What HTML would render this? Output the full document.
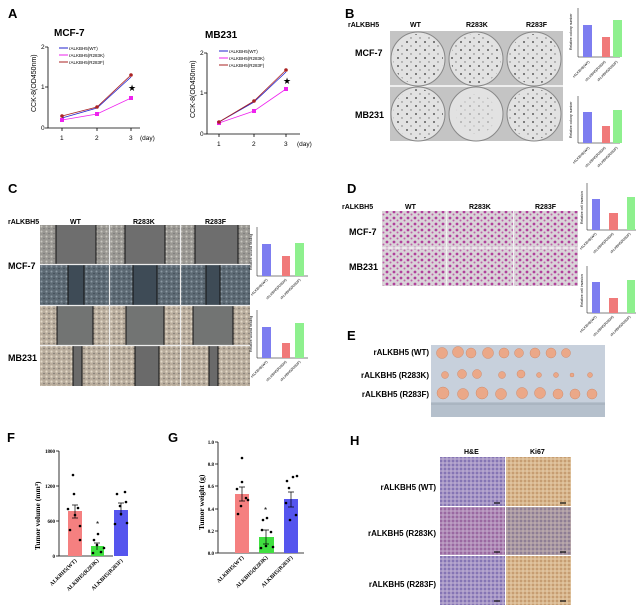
<!DOCTYPE html>
<html><head><meta charset="utf-8"><style>
html,body{margin:0;padding:0;background:#fff;}
svg{display:block;font-family:"Liberation Sans",Arial,sans-serif;}
.b{font-weight:bold;}
</style></head><body>
<svg width="639" height="607" viewBox="0 0 639 607" xmlns="http://www.w3.org/2000/svg">
<defs>
<pattern id="plateDots" width="9" height="8" patternUnits="userSpaceOnUse"><circle cx="2" cy="2" r="1" fill="#222"/><circle cx="6" cy="6" r="0.7" fill="#444"/></pattern>
<pattern id="cellG" width="5" height="5" patternUnits="userSpaceOnUse"><rect width="5" height="5" fill="#9a9893"/><circle cx="1.5" cy="1.5" r="1" fill="#c8c6c0"/><circle cx="4" cy="3.5" r="0.8" fill="#777"/></pattern>
<pattern id="cellB" width="5" height="5" patternUnits="userSpaceOnUse"><rect width="5" height="5" fill="#5d6a74"/><circle cx="1.5" cy="1.5" r="1" fill="#8c99a3"/><circle cx="4" cy="3.5" r="0.8" fill="#3f4a54"/></pattern>
<pattern id="cellT" width="5" height="5" patternUnits="userSpaceOnUse"><rect width="5" height="5" fill="#b9ad9d"/><circle cx="1.5" cy="1.5" r="1.1" fill="#e2d8c8"/><circle cx="4" cy="3.5" r="0.8" fill="#7b7670"/></pattern>
<pattern id="inv" width="7" height="6" patternUnits="userSpaceOnUse"><rect width="7" height="6" fill="#d9d3d8"/><circle cx="2" cy="2" r="1.4" fill="#b0409a"/><circle cx="5.5" cy="4.5" r="1" fill="#c060aa"/></pattern>
<pattern id="he" width="4" height="4" patternUnits="userSpaceOnUse"><rect width="4" height="4" fill="#a797c6"/><circle cx="1" cy="1" r="0.9" fill="#6d5ca8"/><circle cx="3" cy="3" r="0.6" fill="#d6cbe0"/></pattern>
<pattern id="heK" width="4" height="4" patternUnits="userSpaceOnUse"><rect width="4" height="4" fill="#b08cb8"/><circle cx="1" cy="1" r="0.9" fill="#8a4f90"/><circle cx="3" cy="3" r="0.6" fill="#dac8dc"/></pattern>
<pattern id="ki" width="4" height="4" patternUnits="userSpaceOnUse"><rect width="4" height="4" fill="#d9b88f"/><circle cx="1" cy="1" r="0.9" fill="#b98a5e"/><circle cx="3" cy="3" r="0.6" fill="#efe0c8"/></pattern>
<pattern id="kiK" width="4" height="4" patternUnits="userSpaceOnUse"><rect width="4" height="4" fill="#ab9aa4"/><circle cx="1" cy="1" r="0.9" fill="#7a6a88"/><circle cx="3" cy="3" r="0.6" fill="#d8cab8"/></pattern>
</defs>

<!-- A -->
<text x="8" y="18" font-size="13" class="b">A</text>
<text x="54" y="36" font-size="10" class="b">MCF-7</text>
<text x="205" y="38" font-size="10" class="b">MB231</text>
<g stroke="#000" stroke-width="0.8" fill="none">
<path d="M48,47 V128 H140"/><path d="M45,47H48M45,87H48M45,128H48M62,128v3M97,128v3M131,128v3"/>
<path d="M207,53 V134 H300"/><path d="M204,53H207M204,93H207M204,134H207M219,134v3M254,134v3M286,134v3"/>
</g>
<g font-size="6.5">
<text x="41" y="49">2</text><text x="41" y="89">1</text><text x="41" y="130">0</text>
<text x="60" y="140">1</text><text x="95" y="140">2</text><text x="129" y="140">3</text><text x="140" y="140">(day)</text>
<text x="200" y="55">2</text><text x="200" y="95">1</text><text x="200" y="136">0</text>
<text x="217" y="146">1</text><text x="252" y="146">2</text><text x="284" y="146">3</text><text x="297" y="146">(day)</text>
</g>
<text transform="translate(36,112) rotate(-90)" font-size="7">CCK-8(OD450nm)</text>
<text transform="translate(195,118) rotate(-90)" font-size="7">CCK-8(OD450nm)</text>
<g font-size="4.5">
<line x1="59" y1="48" x2="68" y2="48" stroke="#22c"/><text x="69" y="50">rALKBH5(WT)</text>
<line x1="59" y1="55" x2="68" y2="55" stroke="#e2e"/><text x="69" y="57">rALKBH5(R283K)</text>
<line x1="59" y1="62" x2="68" y2="62" stroke="#a22"/><text x="69" y="64">rALKBH5(R283F)</text>
<line x1="219" y1="51" x2="228" y2="51" stroke="#22c"/><text x="229" y="53">rALKBH5(WT)</text>
<line x1="219" y1="58" x2="228" y2="58" stroke="#e2e"/><text x="229" y="60">rALKBH5(R283K)</text>
<line x1="219" y1="65" x2="228" y2="65" stroke="#a22"/><text x="229" y="67">rALKBH5(R283F)</text>
</g>
<g fill="none" stroke-width="0.8">
<polyline points="62,118 97,108 131,77" stroke="#22c"/>
<polyline points="62,120 97,114 131,98" stroke="#e2e"/>
<polyline points="62,116 97,107 131,75" stroke="#a22"/>
<polyline points="219,122 254,102 286,72" stroke="#22c"/>
<polyline points="219,123 254,111 286,89" stroke="#e2e"/>
<polyline points="219,122 254,101 286,70" stroke="#a22"/>
</g>
<g fill="#e2e"><rect x="60" y="118" width="4" height="4"/><rect x="95" y="112" width="4" height="4"/><rect x="129" y="96" width="4" height="4"/><rect x="217" y="121" width="4" height="4"/><rect x="252" y="109" width="4" height="4"/><rect x="284" y="87" width="4" height="4"/></g>
<g fill="#a22"><circle cx="62" cy="116" r="1.8"/><circle cx="97" cy="107" r="1.8"/><circle cx="131" cy="75" r="1.8"/><circle cx="219" cy="122" r="1.8"/><circle cx="254" cy="101" r="1.8"/><circle cx="286" cy="70" r="1.8"/></g>
<text x="128" y="91" font-size="9">★</text><text x="283" y="84" font-size="9">★</text>

<!-- B -->
<text x="345" y="18" font-size="13" class="b">B</text>
<g font-size="7" class="b"><text x="348" y="27">rALKBH5</text><text x="410" y="27">WT</text><text x="466" y="27">R283K</text><text x="526" y="27">R283F</text></g>
<text x="355" y="56" font-size="9" class="b">MCF-7</text>
<text x="355" y="118" font-size="9" class="b">MB231</text>
<rect x="390" y="31" width="173" height="110" fill="#c4c4c4"/>
<line x1="390" y1="86" x2="563" y2="86" stroke="#eee" stroke-width="2"/>
<g fill="#e2e2e2" stroke="#888" stroke-width="1">
<circle cx="418" cy="59" r="27"/><circle cx="476" cy="59" r="27"/><circle cx="534" cy="59" r="27"/>
<circle cx="418" cy="114" r="27"/><circle cx="476" cy="114" r="27"/><circle cx="534" cy="114" r="27"/>
</g>
<g fill="url(#plateDots)" opacity="0.7">
<circle cx="418" cy="59" r="25"/><circle cx="476" cy="59" r="25"/><circle cx="534" cy="59" r="25"/>
<circle cx="418" cy="114" r="25"/><circle cx="476" cy="114" r="20" opacity="0.4"/><circle cx="534" cy="114" r="25"/>
</g>
<g stroke="#000" stroke-width="0.5" fill="none"><path d="M578,8V57H620"/><path d="M578,96V143H620"/></g>
<rect x="583" y="25" width="9" height="32" fill="#7d7df0"/><rect x="602" y="37" width="8" height="20" fill="#f07a7a"/><rect x="613" y="20" width="9" height="37" fill="#8ef08e"/>
<rect x="583" y="112" width="9" height="31" fill="#7d7df0"/><rect x="602" y="126" width="8" height="17" fill="#f07a7a"/><rect x="613" y="110" width="9" height="33" fill="#8ef08e"/>
<g font-size="3.5"><text transform="translate(572,50) rotate(-90)">Relative colony number</text><text transform="translate(572,138) rotate(-90)">Relative colony number</text></g>
<g font-size="3.5"><text transform="translate(590,62) rotate(-45)" text-anchor="end">rALKBH5(WT)</text><text transform="translate(606,62) rotate(-45)" text-anchor="end">rALKBH5(R283K)</text><text transform="translate(618,62) rotate(-45)" text-anchor="end">rALKBH5(R283F)</text>
<text transform="translate(590,148) rotate(-45)" text-anchor="end">rALKBH5(WT)</text><text transform="translate(606,148) rotate(-45)" text-anchor="end">rALKBH5(R283K)</text><text transform="translate(618,148) rotate(-45)" text-anchor="end">rALKBH5(R283F)</text></g>

<!-- C -->
<text x="8" y="193" font-size="13" class="b">C</text>
<g font-size="7" class="b"><text x="8" y="224">rALKBH5</text><text x="70" y="224">WT</text><text x="133" y="224">R283K</text><text x="205" y="224">R283F</text></g>
<text x="8" y="269" font-size="9" class="b">MCF-7</text>
<text x="8" y="361" font-size="9" class="b">MB231</text>
<g>
<rect x="40" y="225" width="210" height="39" fill="url(#cellG)"/>
<rect x="40" y="265" width="210" height="40" fill="url(#cellB)"/>
<rect x="40" y="306" width="210" height="39" fill="url(#cellT)"/>
<rect x="40" y="346" width="210" height="40" fill="url(#cellT)"/>
<g fill="#6e6e6e"><rect x="56" y="225" width="40" height="39"/><rect x="125" y="225" width="40" height="39"/><rect x="195" y="225" width="43" height="39"/></g>
<g fill="#3e4b56"><rect x="68" y="265" width="16" height="40"/><rect x="133" y="265" width="24" height="40"/><rect x="206" y="265" width="14" height="40"/></g>
<g fill="#727473"><rect x="57" y="306" width="36" height="39"/><rect x="126" y="306" width="38" height="39"/><rect x="193" y="306" width="40" height="39"/></g>
<g fill="#6a6a6a"><rect x="73" y="346" width="9" height="40"/><rect x="135" y="346" width="24" height="40"/><rect x="209" y="346" width="9" height="40"/></g>
<g stroke="#111" stroke-width="1"><path d="M56,225v39M96,225v39M125,225v39M165,225v39M195,225v39M238,225v39M68,265v40M84,265v40M133,265v40M157,265v40M206,265v40M220,265v40M57,306v39M93,306v39M126,306v39M164,306v39M193,306v39M233,306v39M73,346v40M82,346v40M135,346v40M159,346v40M209,346v40M218,346v40"/></g>
<g stroke="#eee" stroke-width="1.2"><path d="M109.5,225V386M180.5,225V386M40,264.5H250M40,305.5H250M40,345.5H250"/></g>
</g>
<g stroke="#000" stroke-width="0.5" fill="none"><path d="M257,227V276H308"/><path d="M257,310V358H308"/></g>
<rect x="262" y="244" width="9" height="32" fill="#7d7df0"/><rect x="282" y="256" width="8" height="20" fill="#f07a7a"/><rect x="295" y="243" width="9" height="33" fill="#8ef08e"/>
<rect x="262" y="327" width="9" height="31" fill="#7d7df0"/><rect x="282" y="343" width="8" height="15" fill="#f07a7a"/><rect x="295" y="323" width="9" height="35" fill="#8ef08e"/>
<g font-size="3.5"><text transform="translate(252,270) rotate(-90)">Relative wound healing</text><text transform="translate(252,352) rotate(-90)">Relative wound healing</text>
<text transform="translate(268,280) rotate(-45)" text-anchor="end">rALKBH5(WT)</text><text transform="translate(287,280) rotate(-45)" text-anchor="end">rALKBH5(R283K)</text><text transform="translate(301,280) rotate(-45)" text-anchor="end">rALKBH5(R283F)</text>
<text transform="translate(268,362) rotate(-45)" text-anchor="end">rALKBH5(WT)</text><text transform="translate(287,362) rotate(-45)" text-anchor="end">rALKBH5(R283K)</text><text transform="translate(301,362) rotate(-45)" text-anchor="end">rALKBH5(R283F)</text></g>

<!-- D -->
<text x="347" y="193" font-size="13" class="b">D</text>
<g font-size="7" class="b"><text x="342" y="209">rALKBH5</text><text x="405" y="209">WT</text><text x="469" y="209">R283K</text><text x="535" y="209">R283F</text></g>
<text x="349" y="235" font-size="9" class="b">MCF-7</text>
<text x="349" y="270" font-size="9" class="b">MB231</text>
<rect x="382" y="211" width="196" height="75" fill="url(#inv)"/>
<g stroke="#f2f2f2" stroke-width="1.5"><path d="M446.5,211V286M513.5,211V286M382,248H578"/></g>
<g stroke="#000" stroke-width="0.5" fill="none"><path d="M587,183V230H636"/><path d="M587,266V313H636"/></g>
<rect x="592" y="199" width="8" height="31" fill="#7d7df0"/><rect x="609" y="213" width="9" height="17" fill="#f07a7a"/><rect x="627" y="197" width="8" height="33" fill="#8ef08e"/>
<rect x="592" y="282" width="8" height="31" fill="#7d7df0"/><rect x="609" y="298" width="9" height="15" fill="#f07a7a"/><rect x="627" y="280" width="8" height="33" fill="#8ef08e"/>
<g font-size="3.5"><text transform="translate(583,224) rotate(-90)">Relative cell invasion</text><text transform="translate(583,307) rotate(-90)">Relative cell invasion</text>
<text transform="translate(597,234) rotate(-45)" text-anchor="end">rALKBH5(WT)</text><text transform="translate(614,234) rotate(-45)" text-anchor="end">rALKBH5(R283K)</text><text transform="translate(631,234) rotate(-45)" text-anchor="end">rALKBH5(R283F)</text>
<text transform="translate(597,317) rotate(-45)" text-anchor="end">rALKBH5(WT)</text><text transform="translate(614,317) rotate(-45)" text-anchor="end">rALKBH5(R283K)</text><text transform="translate(631,317) rotate(-45)" text-anchor="end">rALKBH5(R283F)</text></g>

<!-- E -->
<text x="347" y="340" font-size="13" class="b">E</text>
<g font-size="8" class="b" text-anchor="end"><text x="429" y="355">rALKBH5 (WT)</text><text x="429" y="378">rALKBH5 (R283K)</text><text x="429" y="397">rALKBH5 (R283F)</text></g>
<rect x="431" y="345" width="174" height="72" fill="#c7d0dc"/>
<rect x="431" y="402" width="174" height="15" fill="#b5c0cc"/>
<g stroke="#8894a0" stroke-width="0.5"><path d="M431,404H605"/></g>
<g fill="#eba888" stroke="#d08a6a" stroke-width="0.5">
<circle cx="442" cy="353" r="5.5"/><circle cx="458" cy="352" r="5.5"/><circle cx="471" cy="353" r="5"/><circle cx="488" cy="353" r="5.5"/><circle cx="504" cy="353" r="5"/><circle cx="519" cy="353" r="4.5"/><circle cx="535" cy="353" r="5"/><circle cx="551" cy="353" r="5"/><circle cx="566" cy="353" r="4.5"/>
<circle cx="445" cy="375" r="3.5"/><circle cx="462" cy="374" r="4.5"/><circle cx="477" cy="374" r="4.5"/><circle cx="502" cy="375" r="3.5"/><circle cx="521" cy="374" r="4"/><circle cx="539" cy="375" r="2.5"/><circle cx="556" cy="375" r="2.5"/><circle cx="572" cy="375" r="2"/><circle cx="590" cy="375" r="2.5"/>
<circle cx="443" cy="393" r="6"/><circle cx="463" cy="394" r="5.5"/><circle cx="482" cy="393" r="6"/><circle cx="501" cy="394" r="5.5"/><circle cx="522" cy="393" r="5.5"/><circle cx="540" cy="393" r="5.5"/><circle cx="558" cy="394" r="5"/><circle cx="575" cy="394" r="5"/><circle cx="592" cy="394" r="5"/>
</g>

<!-- F -->
<text x="7" y="442" font-size="13" class="b">F</text>
<g stroke="#000" stroke-width="0.8" fill="none"><path d="M59,451V556H113"/><path d="M56,451H59M56,486H59M56,521H59M56,556H59"/></g>
<g font-size="5" font-family="Liberation Serif" font-weight="bold" text-anchor="end"><text x="55" y="453">1800</text><text x="55" y="488">1200</text><text x="55" y="523">600</text><text x="55" y="558">0</text></g>
<text transform="translate(40,550) rotate(-90)" font-size="7.5" font-family="Liberation Serif" font-weight="bold">Tumor volume (mm³)</text>
<rect x="68" y="511" width="14" height="45" fill="#f58080"/><rect x="91" y="546" width="13" height="10" fill="#40e040"/><rect x="114" y="510" width="14" height="46" fill="#5555ee"/>
<g stroke="#000" stroke-width="0.7"><path d="M75,505v13M72,505h6M72,518h6M97,543v7M94,543h6M121,503v13M118,503h6"/></g>
<g fill="#000"><circle cx="73" cy="475" r="1.3"/><circle cx="74" cy="494" r="1.3"/><circle cx="68" cy="509" r="1.3"/><circle cx="78" cy="508" r="1.3"/><circle cx="75" cy="515" r="1.3"/><circle cx="70" cy="530" r="1.3"/><circle cx="80" cy="526" r="1.3"/><circle cx="80" cy="540" r="1.3"/><circle cx="98" cy="534" r="1.3"/><circle cx="94" cy="540" r="1.3"/><circle cx="97" cy="545" r="1.3"/><circle cx="93" cy="553" r="1.3"/><circle cx="101" cy="552" r="1.3"/><circle cx="104" cy="548" r="1.3"/><circle cx="117" cy="494" r="1.3"/><circle cx="125" cy="492" r="1.3"/><circle cx="120" cy="506" r="1.3"/><circle cx="126" cy="502" r="1.3"/><circle cx="115" cy="524" r="1.3"/><circle cx="127" cy="523" r="1.3"/><circle cx="121" cy="514" r="1.3"/></g>
<text x="96" y="527" font-size="8">*</text>
<g font-size="5.5" font-family="Liberation Serif" font-weight="bold" text-anchor="end"><text transform="translate(77,561) rotate(-45)">ALKBH5(WT)</text><text transform="translate(99,561) rotate(-45)">ALKBH5(R283K)</text><text transform="translate(123,561) rotate(-45)">ALKBH5(R283F)</text></g>

<!-- G -->
<text x="168" y="442" font-size="13" class="b">G</text>
<g stroke="#000" stroke-width="0.8" fill="none"><path d="M218,442V553H304"/><path d="M215,442H218M215,464H218M215,486H218M215,509H218M215,531H218M215,553H218"/></g>
<g font-size="5" font-family="Liberation Serif" font-weight="bold" text-anchor="end"><text x="214" y="444">1.0</text><text x="214" y="466">0.8</text><text x="214" y="488">0.6</text><text x="214" y="511">0.4</text><text x="214" y="533">0.2</text><text x="214" y="555">0.0</text></g>
<text transform="translate(204,530) rotate(-90)" font-size="7.5" font-family="Liberation Serif" font-weight="bold">Tumor weight (g)</text>
<rect x="235" y="494" width="14" height="59" fill="#f58080"/><rect x="259" y="537" width="15" height="16" fill="#40e040"/><rect x="284" y="499" width="14" height="54" fill="#5555ee"/>
<g stroke="#000" stroke-width="0.7"><path d="M242,487v14M239,487h6M239,501h6M266,530v14M263,530h6M263,544h6M291,492v15M288,492h6M288,507h6"/></g>
<g fill="#000"><circle cx="242" cy="458" r="1.3"/><circle cx="242" cy="482" r="1.3"/><circle cx="237" cy="489" r="1.3"/><circle cx="246" cy="498" r="1.3"/><circle cx="248" cy="500" r="1.3"/><circle cx="241" cy="506" r="1.3"/><circle cx="238" cy="514" r="1.3"/><circle cx="263" cy="520" r="1.3"/><circle cx="267" cy="518" r="1.3"/><circle cx="262" cy="530" r="1.3"/><circle cx="271" cy="532" r="1.3"/><circle cx="261" cy="548" r="1.3"/><circle cx="266" cy="546" r="1.3"/><circle cx="273" cy="547" r="1.3"/><circle cx="287" cy="481" r="1.3"/><circle cx="293" cy="477" r="1.3"/><circle cx="297" cy="476" r="1.3"/><circle cx="286" cy="503" r="1.3"/><circle cx="296" cy="515" r="1.3"/><circle cx="290" cy="520" r="1.3"/><circle cx="289" cy="488" r="1.3"/></g>
<text x="264" y="513" font-size="8">*</text>
<g font-size="5.5" font-family="Liberation Serif" font-weight="bold" text-anchor="end"><text transform="translate(244,558) rotate(-45)">ALKBH5(WT)</text><text transform="translate(268,558) rotate(-45)">ALKBH5(R283K)</text><text transform="translate(293,558) rotate(-45)">ALKBH5(R283F)</text></g>

<!-- H -->
<text x="350" y="445" font-size="13" class="b">H</text>
<g font-size="7" class="b"><text x="464" y="454">H&amp;E</text><text x="530" y="454">Ki67</text></g>
<g font-size="8" class="b" text-anchor="end"><text x="436" y="490">rALKBH5 (WT)</text><text x="436" y="536">rALKBH5 (R283K)</text><text x="436" y="587">rALKBH5 (R283F)</text></g>
<rect x="440" y="457" width="65" height="49" fill="url(#he)"/><rect x="506" y="457" width="65" height="49" fill="url(#ki)"/>
<rect x="440" y="507" width="65" height="48" fill="url(#heK)"/><rect x="506" y="507" width="65" height="48" fill="url(#kiK)"/>
<rect x="440" y="556" width="65" height="49" fill="url(#he)"/><rect x="506" y="556" width="65" height="49" fill="url(#ki)"/>
<g stroke="#111" stroke-width="1.2"><path d="M494,503h6M560,503h6M494,552h6M560,552h6M494,601h6M560,601h6"/></g>
</svg>
</body></html>
